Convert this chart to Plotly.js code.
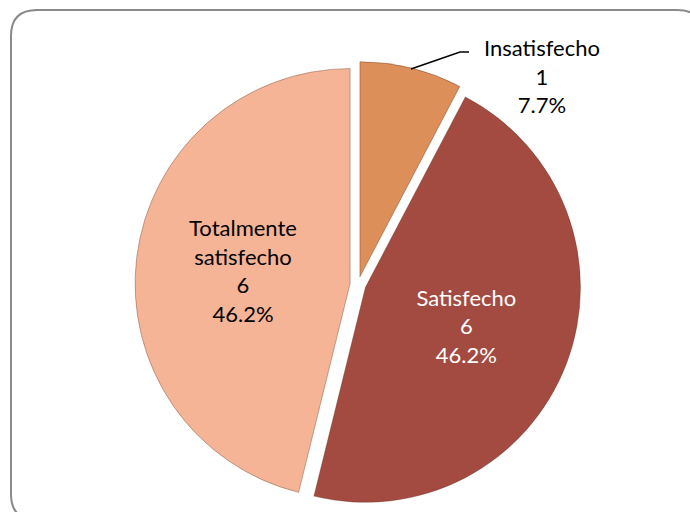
<!DOCTYPE html>
<html>
<head>
<meta charset="utf-8">
<script src="https://cdn.plot.ly/plotly-3.0.1.min.js"></script>
<style>html,body{margin:0;padding:0;background:#fff;}#chart{width:690px;height:512px;}</style>
</head>
<body>
<div id="chart"></div>
<script>
// Data
var categories = ["Insatisfecho", "Satisfecho", "Totalmente<br>satisfecho"];
var values = [1, 6, 6];
var sliceColors = ["#dc8f58", "#a44b41", "#f5b495"];
var textColors = ["#000000", "#ffffff", "#000000"];

var W = 690, H = 512;
function px(x) { return x / W; }
function py(y) { return 1 - y / H; }

var total = values.reduce(function (a, b) { return a + b; }, 0);
var pctSmall = (values[0] / total * 100).toFixed(1) + "%";

// rounded frame
function roundedRect(x0, y0, x1, y1, r) {
  return "M" + px(x0 + r) + "," + py(y0) +
    " L" + px(x1 - r) + "," + py(y0) +
    " Q" + px(x1) + "," + py(y0) + " " + px(x1) + "," + py(y0 + r) +
    " L" + px(x1) + "," + py(y1 - r) +
    " Q" + px(x1) + "," + py(y1) + " " + px(x1 - r) + "," + py(y1) +
    " L" + px(x0 + r) + "," + py(y1) +
    " Q" + px(x0) + "," + py(y1) + " " + px(x0) + "," + py(y1 - r) +
    " L" + px(x0) + "," + py(y0 + r) +
    " Q" + px(x0) + "," + py(y0) + " " + px(x0 + r) + "," + py(y0) + " Z";
}

var trace = {
  type: "pie",
  labels: categories,
  values: values,
  sort: false,
  direction: "clockwise",
  rotation: 0,
  pull: [0.037, 0.037, 0.037],
  marker: { colors: sliceColors, line: { width: 1, color: "rgba(90,40,20,0.35)" } },
  texttemplate: ["", "%{label}<br>%{value}<br>%{percent:.1%}", "%{label}<br>%{value}<br>%{percent:.1%}"],
  textposition: ["none", "inside", "inside"],
  insidetextorientation: "horizontal",
  insidetextfont: { family: "Lato, sans-serif", size: 22, color: textColors },
  hoverinfo: "label+value+percent",
  domain: { x: [0.1957, 0.8420], y: [0.0088, 0.8798] },
  showlegend: false
};

var layout = {
  width: W, height: H,
  margin: { l: 0, r: 0, t: 0, b: 0 },
  paper_bgcolor: "#ffffff",
  showlegend: false,
  shapes: [
    { type: "path", xref: "paper", yref: "paper", path: roundedRect(11, 10, 703, 520, 26),
      line: { color: "#8a8a8a", width: 2 }, fillcolor: "rgba(0,0,0,0)", layer: "below" },
    { type: "path", xref: "paper", yref: "paper",
      path: "M" + px(411) + "," + py(69) + " L" + px(460) + "," + py(52) + " L" + px(469) + "," + py(52),
      line: { color: "#000000", width: 1.5 } }
  ],
  annotations: [
    { xref: "paper", yref: "paper", x: px(542), y: py(76), xanchor: "center", yanchor: "middle",
      text: categories[0] + "<br>" + values[0] + "<br>" + pctSmall, showarrow: false,
      font: { family: "Lato, sans-serif", size: 22, color: "#000000" } }
  ]
};

Plotly.newPlot("chart", [trace], layout, { displayModeBar: false, staticPlot: true });
</script>
</body>
</html>
